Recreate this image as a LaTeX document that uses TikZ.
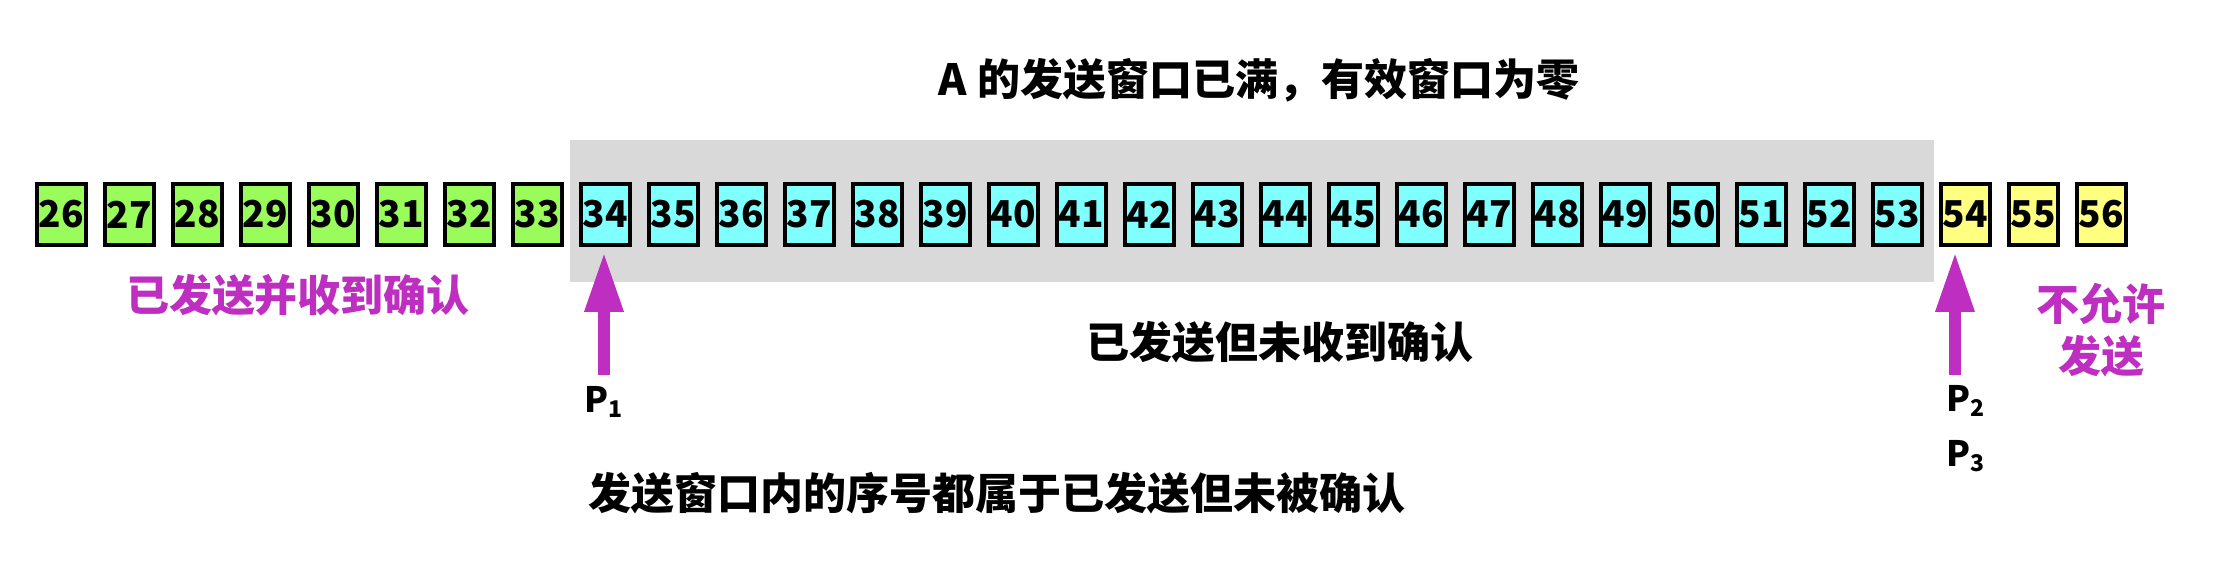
\documentclass[tikz,border=0pt]{standalone}
\usepackage{fontspec}
\setmainfont{Noto Sans CJK SC}
\usetikzlibrary{arrows.meta}
\definecolor{gfill}{RGB}{153,252,90}
\definecolor{cfill}{RGB}{128,255,255}
\definecolor{yfill}{RGB}{255,255,128}
\definecolor{wingray}{RGB}{217,217,217}
\definecolor{mag}{RGB}{190,46,192}
\newcommand{\Plab}[1]{P\raisebox{-2.5pt}{\fontsize{11.5}{11.5}\selectfont #1}}
\begin{document}
\begin{tikzpicture}[x=0.5pt,y=-0.5pt,
  cell/.style={draw=black, line width=2pt, minimum width=24.5pt, minimum height=30.5pt, inner sep=0pt, font=\bfseries\fontsize{18.5}{18.5}\selectfont},
  bigtxt/.style={inner sep=0pt, font=\bfseries\fontsize{21.5}{26}\selectfont},
  plab/.style={inner sep=0pt, anchor=base west, font=\bfseries\fontsize{17.5}{17.5}\selectfont},
  arr/.style={draw=mag, line width=6pt, -{Triangle[length=30pt,width=18pt]}, shorten >=2.4pt}]
\useasboundingbox (0,0) rectangle (2240,576);
\fill[wingray] (570,140) rectangle (1934,282);
\foreach \n in {26,...,33} \node[cell, fill=gfill] (b\n) at ({61.5+68*(\n-26)},214.5) {\n};
\foreach \n in {34,...,53} \node[cell, fill=cfill] (b\n) at ({61.5+68*(\n-26)},214.5) {\n};
\foreach \n in {54,...,56} \node[cell, fill=yfill] (b\n) at ({61.5+68*(\n-26)},214.5) {\n};
\node[bigtxt] (title) at (1259,80) {A 的发送窗口已满，有效窗口为零};
\node[bigtxt, text=mag] (acked) at (298,295) {已发送并收到确认};
\node[bigtxt] (unacked) at (1280,342) {已发送但未收到确认};
\node[bigtxt] (note) at (997,493) {发送窗口内的序号都属于已发送但未被确认};
\node[bigtxt, text=mag, align=center] (notallowed) at (2101,330) {不允许\\发送};
\node[plab] (p1) at (584,413) {\Plab{1}};
\node[plab] (p2) at (1946,412) {\Plab{2}};
\node[plab] (p3) at (1946,467) {\Plab{3}};
\coordinate (a1) at (604,375);
\coordinate (a2) at (1955,375);
\draw[arr] (a1) -- (a1 |- b34.south);
\draw[arr] (a2) -- (a2 |- b54.south);
\end{tikzpicture}
\end{document}
